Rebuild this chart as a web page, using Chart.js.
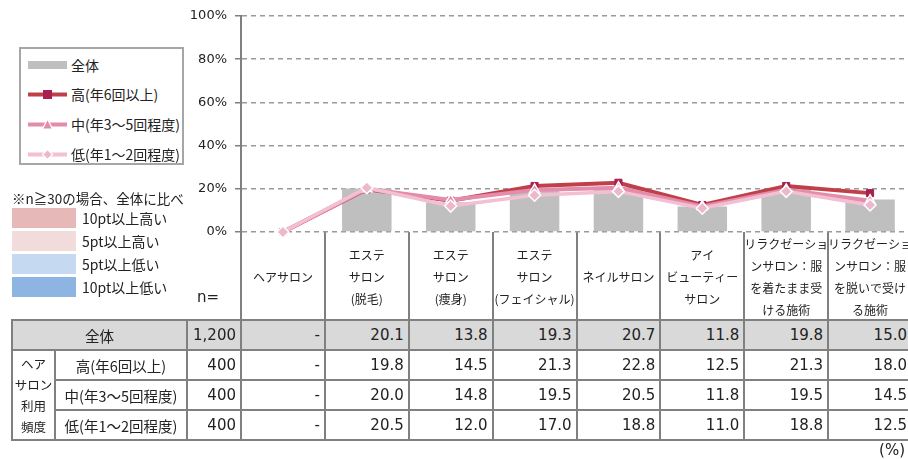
<!DOCTYPE html>
<html lang="ja">
<head>
<meta charset="utf-8">
<script src="https://cdn.jsdelivr.net/npm/chart.js@4/dist/chart.umd.min.js"></script>
<style>
  body { margin: 0; width: 908px; height: 459px; overflow: hidden; position: relative; background: #fff; color: #222;
         font-family: 'DejaVu Sans', 'Noto Sans CJK JP', sans-serif; }
  #c { position: absolute; left: 0; top: 0; }
  .abs { position: absolute; }
  #legend { left: 19px; top: 47px; width: 165px; height: 118px; border: 2px solid #a6a6a6; box-sizing: border-box; background: #fff; }
  .lg-item { position: absolute; left: 7px; height: 20px; display: flex; align-items: center; font-size: 14px; white-space: nowrap;
             font-family: 'Noto Sans CJK JP', 'DejaVu Sans', sans-serif; }
  .lg-item svg { margin-right: 4px; }
  .key-box { left: 12px; width: 64px; height: 20px; }
  .key-label { left: 82px; height: 20px; line-height: 20px; font-size: 14px; font-family: 'Noto Sans CJK JP', 'DejaVu Sans', sans-serif; }
  .cell { position: absolute; box-sizing: border-box; border: 2px solid #808080; display: flex; align-items: center;
          font-size: 15px; }
  .num { justify-content: flex-end; padding-right: 4px; }
  .lab { justify-content: center; font-family: 'Noto Sans CJK JP', 'DejaVu Sans', sans-serif; font-size: 14.5px; }
</style>
</head>
<body>
<canvas id="c" width="920" height="459"></canvas>
<div id="legend" class="abs"></div>
<div id="key"></div>
<div id="tbl"></div>
<div class="abs" style="left:197px; top:288px; font-size:15px;">n=</div>
<div class="abs" style="right:3px; top:441px; font-size:15px;">(%)</div>
<script>
// カテゴリ（x軸ラベル）
const categories = [
  ['ヘアサロン'],
  ['エステ', 'サロン', '(脱毛)'],
  ['エステ', 'サロン', '(痩身)'],
  ['エステ', 'サロン', '(フェイシャル)'],
  ['ネイルサロン'],
  ['アイ', 'ビューティー', 'サロン'],
  ['リラクゼーショ', 'ンサロン：服', 'を着たまま受', 'ける施術'],
  ['リラクゼーショ', 'ンサロン：服', 'を脱いで受け', 'る施術']
];

const seriesNames = ['全体', '高(年6回以上)', '中(年3～5回程度)', '低(年1～2回程度)'];
const sampleSizes = [1200, 400, 400, 400];

// null = 「-」
const totalValues = [null, 20.1, 13.8, 19.3, 20.7, 11.8, 19.8, 15.0];
const highValues  = [null, 19.8, 14.5, 21.3, 22.8, 12.5, 21.3, 18.0];
const midValues   = [null, 20.0, 14.8, 19.5, 20.5, 11.8, 19.5, 14.5];
const lowValues   = [null, 20.5, 12.0, 17.0, 18.8, 11.0, 18.8, 12.5];

const yTicks = [0, 20, 40, 60, 80, 100];

const keyLabels = ['10pt以上高い', '5pt以上高い', '5pt以上低い', '10pt以上低い'];
const keyColors = ['#E6B8B7', '#F2DCDB', '#C5D9F1', '#8DB4E2'];

const jpFont = "'Noto Sans CJK JP', 'DejaVu Sans', sans-serif";
const numFont = "'DejaVu Sans', 'Noto Sans CJK JP', sans-serif";

const colHigh = '#C0404A', colMid = '#E48CAB', colLow = '#F3BFD2';

const ctx = document.getElementById('c').getContext('2d');
const chart = new Chart(ctx, {
  type: 'bar',
  data: {
    labels: categories,
    datasets: [
      { type: 'line', label: seriesNames[3], data: lowValues.map(v => v ?? 0), order: 1, clip: false,
        borderColor: colLow, borderWidth: 3.5, pointStyle: 'rectRot', pointRadius: 6,
        pointBackgroundColor: '#EDB8CC', pointBorderColor: '#fff', pointBorderWidth: 1.5 },
      { type: 'line', label: seriesNames[2], data: midValues.map(v => v ?? 0), order: 2, clip: false,
        borderColor: colMid, borderWidth: 4, pointStyle: 'triangle', pointRadius: 6,
        pointBackgroundColor: colMid, pointBorderColor: '#fff', pointBorderWidth: 1.5 },
      { type: 'line', label: seriesNames[1], data: highValues.map(v => v ?? 0), order: 3, clip: false,
        borderColor: colHigh, borderWidth: 4, pointStyle: 'rect', pointRadius: 5,
        pointBackgroundColor: '#A8204F', pointBorderColor: '#A8204F', pointBorderWidth: 1 },
      { type: 'bar', label: seriesNames[0], data: totalValues, order: 4,
        backgroundColor: '#BFBFBF', barPercentage: 0.59, categoryPercentage: 1 }
    ]
  },
  options: {
    responsive: false,
    animation: false,
    layout: { padding: { left: 0, right: 8, top: 16, bottom: 139 } },
    plugins: { legend: { display: false }, tooltip: { enabled: false } },
    scales: {
      x: {
        grid: { offset: true, drawOnChartArea: false, drawTicks: true, tickLength: 88, color: '#808080', lineWidth: 2 },
        border: { display: false },
        ticks: { font: { family: jpFont, size: 12, lineHeight: 1.84 }, color: '#222', padding: -76,
                 crossAlign: 'center', maxRotation: 0, minRotation: 0, autoSkip: false },
        afterFit(s) { s.height = 88; }
      },
      y: {
        min: 0, max: 100,
        afterBuildTicks(s) { s.ticks = yTicks.map(v => ({ value: v })); },
        ticks: { callback: v => v + '%', font: { family: numFont, size: 13 }, color: '#222', padding: 8 },
        grid: { color: '#9a9a9a', lineWidth: 1.5, tickLength: 6, tickColor: '#808080', tickWidth: 1.5 },
        border: { display: true, color: '#808080', width: 2, dash: [5, 4] },
        afterFit(s) { s.width = 241; }
      }
    }
  }
});

// 凡例
function marker(kind, lineColor, fill) {
  let m = '';
  if (kind === 'rect') m = `<rect x="15" y="5" width="9" height="9" fill="${fill}"/>`;
  if (kind === 'triangle') m = `<polygon points="19.5,4 24.5,14 14.5,14" fill="${fill}" stroke="#fff" stroke-width="1.2"/>`;
  if (kind === 'rectRot') m = `<polygon points="19.5,4.5 24.5,9.5 19.5,14.5 14.5,9.5" fill="${fill}" stroke="#fff" stroke-width="1.2"/>`;
  return `<svg width="39" height="19"><line x1="0" y1="9.5" x2="39" y2="9.5" stroke="${lineColor}" stroke-width="4"/>${m}</svg>`;
}
const legend = document.getElementById('legend');
const legendTops = [6, 35, 65, 95];
const swatches = [
  `<svg width="39" height="19"><rect x="0" y="5" width="39" height="8" fill="#BFBFBF"/></svg>`,
  marker('rect', colHigh, '#A8204F'),
  marker('triangle', colMid, colMid),
  marker('rectRot', colLow, '#EDB8CC')
];
seriesNames.forEach((name, i) => {
  const d = document.createElement('div');
  d.className = 'lg-item';
  d.style.top = legendTops[i] + 'px';
  d.innerHTML = swatches[i] + '<span>' + name + '</span>';
  legend.appendChild(d);
});

// 色の説明
const key = document.getElementById('key');
let html = `<div class="abs" style="left:12px; top:188px; font-size:13.5px; font-family:${jpFont}; line-height:20px; white-space:nowrap;">※n≧30の場合、全体に比べ</div>`;
const keyTops = [208, 231, 254, 277];
keyLabels.forEach((lab, i) => {
  html += `<div class="abs key-box" style="top:${keyTops[i]}px; background:${keyColors[i]}"></div>`;
  html += `<div class="abs key-label" style="top:${keyTops[i]}px">${lab}</div>`;
});
key.innerHTML = html;

// データ表
function buildTable() {
  const area = chart.chartArea;
  const colW = (area.right - area.left) / categories.length;
  const top = area.bottom + 88;
  const rowH = 30;
  const rowsVals = [totalValues, highValues, midValues, lowValues];
  const tbl = document.getElementById('tbl');
  let out = '';
  const cell = (x0, y0, x1, y1, cls, txt, bg, extra) => {
    out += `<div class="cell ${cls}" style="left:${x0 - 1}px; top:${y0 - 1}px; width:${x1 - x0 + 2}px; height:${y1 - y0 + 2}px;` +
           `${bg ? 'background:' + bg + ';' : ''}${extra || ''}">${txt}</div>`;
  };
  const fmtN = n => n.toLocaleString('en-US');
  const fmtV = v => v === null ? '-' : v.toFixed(1);
  rowsVals.forEach((vals, r) => {
    const y0 = top + r * rowH, y1 = y0 + rowH;
    const bg = r === 0 ? '#D9D9D9' : null;
    if (r === 0) cell(12, y0, 187, y1, 'lab', seriesNames[0], bg);
    else cell(55, y0, 187, y1, 'lab', seriesNames[r], bg);
    cell(187, y0, area.left, y1, 'num', fmtN(sampleSizes[r]), bg);
    vals.forEach((v, i) => {
      cell(area.left + i * colW, y0, area.left + (i + 1) * colW, y1, 'num', fmtV(v), bg);
    });
  });
  cell(12, top + rowH, 55, top + 4 * rowH, 'lab', 'ヘア<br>サロン<br>利用<br>頻度', null,
       'font-size:12.5px; line-height:21px; text-align:center; flex-direction:column; justify-content:center;');
  tbl.innerHTML = out;
}
buildTable();
</script>
</body>
</html>
